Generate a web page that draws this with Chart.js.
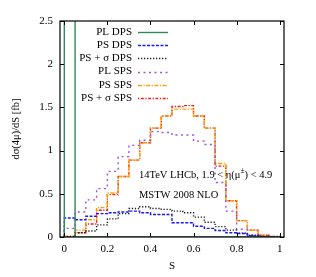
<!DOCTYPE html>
<html lang="en">
  <head>
    <meta charset="UTF-8" />
    <title>dsigma/dS 4mu</title>
    <script src="https://cdn.jsdelivr.net/npm/chart.js"></script>
    <style>
      body { margin: 0; background: #fff; }
      #wrap { width: 316px; height: 277px; position: relative; }
    </style>
  </head>
  <body>
    <div id="wrap"><canvas id="chart"></canvas></div>
    <script>
      // bin edges in S (20 bins of width 0.05)
      const binEdges = [0, 0.05, 0.1, 0.15, 0.2, 0.25, 0.3, 0.35, 0.4, 0.45, 0.5,
                        0.55, 0.6, 0.65, 0.7, 0.75, 0.8, 0.85, 0.9, 0.95, 1.0];
      const xTicks = [0, 0.2, 0.4, 0.6, 0.8, 1];
      const yTicks = [0, 0.5, 1, 1.5, 2, 2.5];

      const plDps = [5.0, 0, 0, 0, 0, 0, 0, 0, 0, 0, 0, 0, 0, 0, 0, 0, 0, 0, 0, 0];
      const psDps = [0.22, 0.20, 0.24, 0.27, 0.28, 0.29, 0.30, 0.28, 0.26, 0.26,
                     0.165, 0.165, 0.125, 0.10, 0.075, 0.05, 0.04, 0.015, 0.005, 0.0];
      const psSigDps = [0.005, 0.05, 0.07, 0.14, 0.21, 0.27, 0.33, 0.35, 0.33, 0.32,
                        0.30, 0.28, 0.23, 0.17, 0.12, 0.08, 0.045, 0.02, 0.005, 0.0];
      const plSps = [0.10, 0.29, 0.43, 0.56, 0.76, 0.93, 1.06, 1.12, 1.22, 1.21,
                     1.18, 1.18, 1.11, 1.07, 0.63, 0.30, 0.09, 0.02, 0.005, 0.0];
      const psSps = [0.005, 0.08, 0.20, 0.34, 0.51, 0.70, 0.89, 1.09, 1.26, 1.40,
                     1.48, 1.48, 1.40, 1.26, 0.85, 0.42, 0.19, 0.08, 0.02, 0.005];
      const psSigSps = [0.0, 0.05, 0.15, 0.31, 0.49, 0.70, 0.89, 1.09, 1.26, 1.40,
                        1.51, 1.52, 1.40, 1.26, 0.82, 0.42, 0.19, 0.08, 0.02, 0.005];

      const serif = "'Liberation Serif', 'DejaVu Serif', serif";

      // histogram outline: value i is held over [edge i, edge i+1]
      function histPoints(vals) {
        const pts = [{ x: binEdges[0], y: 0 }];
        vals.forEach((v, i) => pts.push({ x: binEdges[i + 1], y: v }));
        pts.push({ x: binEdges[vals.length], y: 0 });
        return pts;
      }

      function series(label, vals, color, dash) {
        return {
          label: label,
          data: histPoints(vals),
          borderColor: color,
          borderWidth: 1.4,
          borderDash: dash,
          stepped: 'after',
          pointRadius: 0,
          fill: false,
        };
      }

      const datasets = [
        series('PL DPS', plDps, '#2e8b57', []),
        series('PS DPS', psDps, '#1a1aff', [3, 1.5]),
        series('PS + \u03c3 DPS', psSigDps, '#222222', [1.3, 1.7]),
        series('PL SPS', plSps, '#a050e0', [2, 3.5]),
        series('PS SPS', psSps, '#ffa000', [4, 1.5, 1.2, 1.5]),
        series('PS + \u03c3 SPS', psSigSps, '#ee2020', [1.3, 1.5, 3, 1.5]),
      ];

      // gnuplot-like frame, inward ticks, key and labels
      const decor = {
        id: 'decor',
        afterDatasetsDraw(chart) {
          const { ctx, chartArea: a, scales } = chart;
          ctx.save();
          ctx.strokeStyle = '#000';
          ctx.lineWidth = 1.2;
          ctx.setLineDash([]);
          ctx.strokeRect(a.left, a.top, a.right - a.left, a.bottom - a.top);
          ctx.lineWidth = 1;
          const tl = 4;
          ctx.beginPath();
          xTicks.forEach(t => {
            const px = Math.round(scales.x.getPixelForValue(t)) + 0.5;
            ctx.moveTo(px, a.bottom); ctx.lineTo(px, a.bottom - tl);
            ctx.moveTo(px, a.top); ctx.lineTo(px, a.top + tl);
          });
          yTicks.forEach(t => {
            const py = Math.round(scales.y.getPixelForValue(t)) + 0.5;
            ctx.moveTo(a.left, py); ctx.lineTo(a.left + tl, py);
            ctx.moveTo(a.right, py); ctx.lineTo(a.right - tl, py);
          });
          ctx.stroke();

          // key
          ctx.font = '11px ' + serif;
          ctx.textAlign = 'right';
          ctx.textBaseline = 'middle';
          chart.data.datasets.forEach((ds, i) => {
            const y = 32 + i * 13.2;
            ctx.fillStyle = '#000';
            ctx.fillText(ds.label, 132, y);
            ctx.strokeStyle = ds.borderColor;
            ctx.lineWidth = ds.borderWidth;
            ctx.setLineDash(ds.borderDash);
            ctx.beginPath();
            ctx.moveTo(138, Math.round(y) + 0.5);
            ctx.lineTo(168, Math.round(y) + 0.5);
            ctx.stroke();
          });
          ctx.setLineDash([]);

          // labels
          ctx.fillStyle = '#000';
          ctx.textAlign = 'left';
          ctx.font = '10.5px ' + serif;
          let x = 139;
          const y1 = 175;
          const part1 = '14TeV LHCb, 1.9 < \u03b7(\u03bc';
          ctx.fillText(part1, x, y1);
          x += ctx.measureText(part1).width;
          ctx.font = '7.5px ' + serif;
          ctx.fillText('\u00b1', x, y1 - 4);
          x += ctx.measureText('\u00b1').width;
          ctx.font = '10.5px ' + serif;
          ctx.fillText(') < 4.9', x, y1);
          ctx.fillText('MSTW 2008 NLO', 139, 195);
          ctx.restore();
        },
      };

      new Chart(document.getElementById('chart'), {
        type: 'line',
        data: { datasets: datasets },
        options: {
          responsive: true,
          maintainAspectRatio: false,
          animation: false,
          layout: { padding: { top: 21, right: 32, left: 0, bottom: 0 } },
          plugins: { legend: { display: false }, tooltip: { enabled: false } },
          scales: {
            x: {
              type: 'linear',
              min: -0.02,
              max: 1.02,
              afterBuildTicks: s => { s.ticks = xTicks.map(v => ({ value: v })); },
              afterFit: s => { s.height = 40; },
              grid: { display: false, drawTicks: false },
              border: { display: false },
              ticks: {
                padding: 6,
                color: '#000',
                font: { family: serif, size: 11 },
                callback: v => String(v),
              },
              title: {
                display: true,
                text: 'S',
                color: '#000',
                font: { family: serif, size: 11 },
                padding: { bottom: 4 },
              },
            },
            y: {
              min: 0,
              max: 2.5,
              afterBuildTicks: s => { s.ticks = yTicks.map(v => ({ value: v })); },
              afterFit: s => { s.width = 60; },
              grid: { display: false, drawTicks: false },
              border: { display: false },
              ticks: {
                padding: 7,
                color: '#000',
                font: { family: serif, size: 11 },
                callback: v => String(v),
              },
              title: {
                display: true,
                text: 'd\u03c3(4\u03bc)/dS [fb]',
                color: '#000',
                font: { family: serif, size: 10.5 },
                padding: { top: 10 },
              },
            },
          },
        },
        plugins: [decor],
      });
    </script>
  </body>
</html>
